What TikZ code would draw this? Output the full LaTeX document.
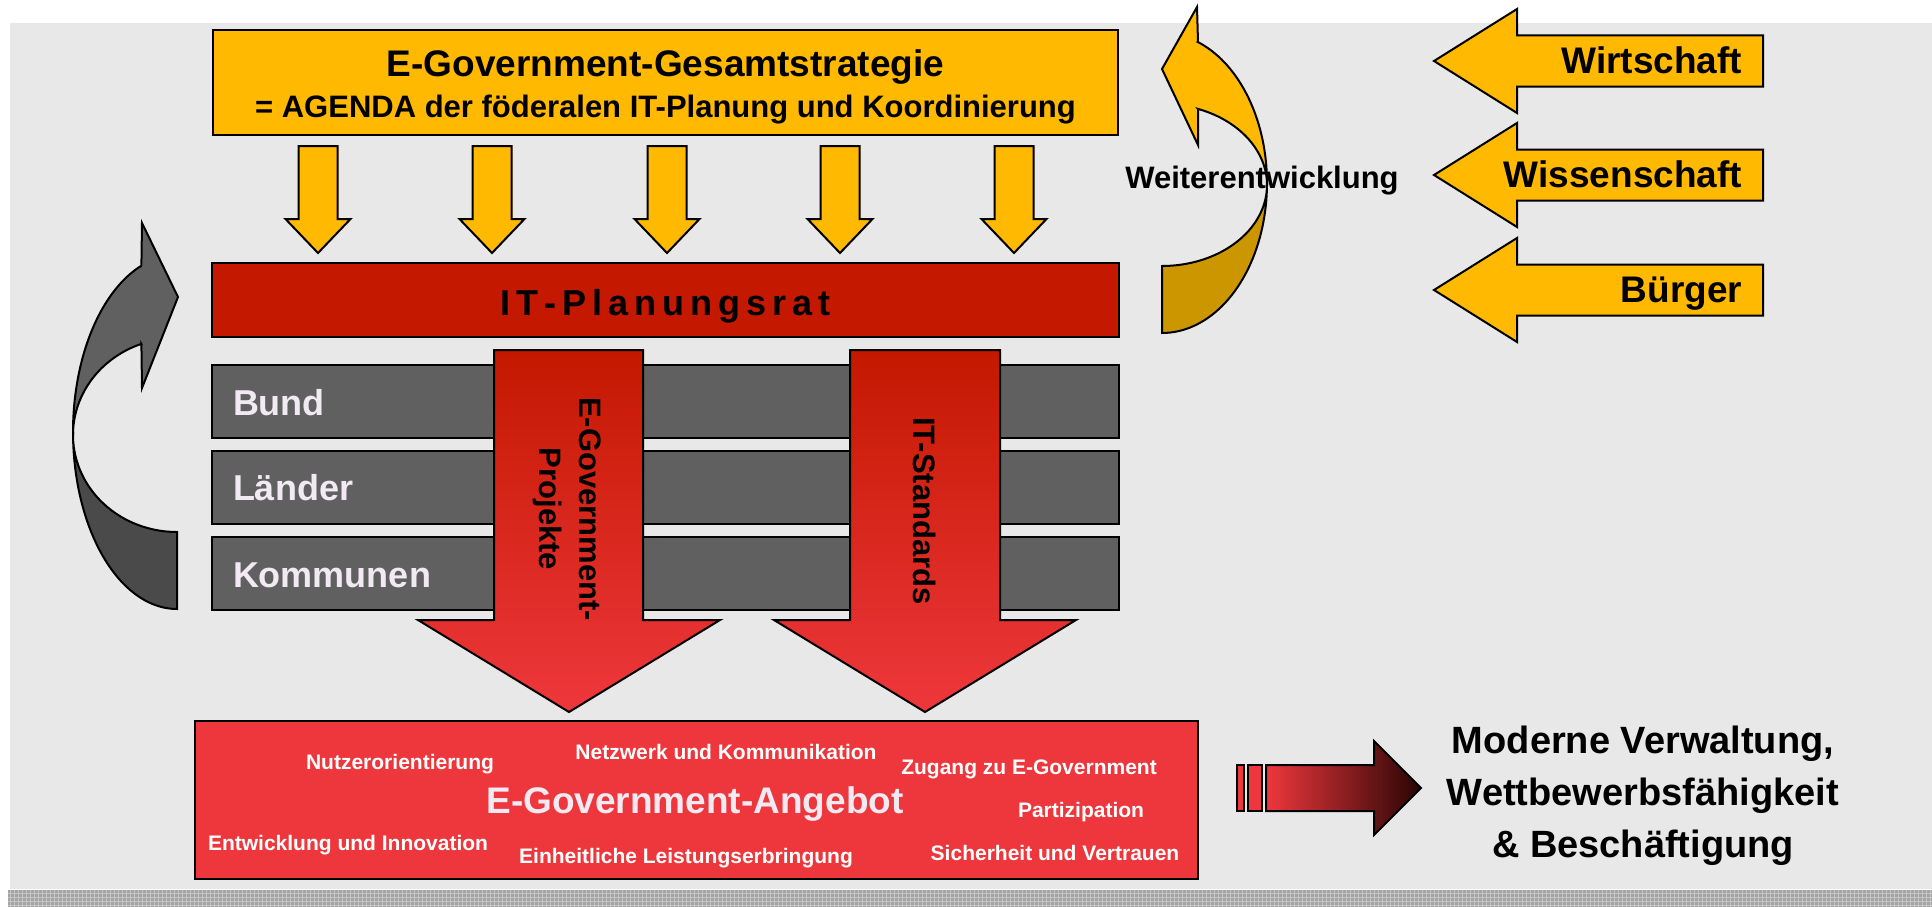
\documentclass[tikz,border=0pt]{standalone}
\usepackage{fontspec}
\setmainfont{Liberation Sans}
\definecolor{bg}{HTML}{E8E8E8}
\definecolor{yel}{HTML}{FFB900}
\definecolor{yeldark}{HTML}{CC9600}
\definecolor{itred}{HTML}{C41800}
\definecolor{lred}{HTML}{EE373C}
\definecolor{barg}{HTML}{606060}
\definecolor{darkg}{HTML}{4A4A4A}
\definecolor{txtw}{HTML}{F2EAF2}
\definecolor{darkred}{HTML}{2A0505}
\definecolor{stripg}{HTML}{A4A4A4}
\definecolor{stripl}{HTML}{C6C6C6}
\newcommand\fsz[1]{\fontsize{#1}{#1}\selectfont}
\begin{document}
\begin{tikzpicture}[x=1pt,y=-1pt,
  blk/.style={draw=black, line width=2pt, line join=miter},
  boxnode/.style={blk, inner sep=0pt, outer sep=0pt},
  txt/.style={inner sep=0pt, outer sep=0pt, font=\bfseries},
  small/.style={txt, text=white, anchor=base, font=\bfseries\fsz{21}}]
\useasboundingbox (0,0) rectangle (1932,907);
% background
\fill[bg] (10,23) rectangle (1932,889);
\fill[stripg] (8,890) rectangle (1932,907);
\foreach \i in {0,...,480} {\draw[stripl, line width=1pt] ({10+4*\i},890) -- ({10+4*\i},907);}
\foreach \j in {893,897,901,905} {\draw[stripl, line width=1pt] (8,\j) -- (1932,\j);}

% left curved grey arrow
\filldraw[blk, fill=darkg] plot[domain=180:90, samples=40] ({177+104*cos(\x)},{432+177*sin(\x)})
  -- (177,532) -- plot[domain=90:180, samples=40] ({177+104*cos(\x)},{435+97*sin(\x)}) -- cycle;
\filldraw[blk, fill=barg] (141.4,265.7) -- (142,223) -- (178,297) -- (142,388) -- (141.4,343.8)
  -- plot[domain=250:180, samples=40] ({177+104*cos(\x)},{435+97*sin(\x)})
  -- plot[domain=180:250, samples=40] ({177+104*cos(\x)},{432+177*sin(\x)}) -- cycle;

% strategy box
\node[boxnode, fill=yel, minimum width=905pt, minimum height=105pt] (strat) at (665.5,82.5) {};
\node[txt, anchor=base, font=\bfseries\fsz{37}] (strat1) at (665.5,77) {E-Government-Gesamtstrategie};
\node[txt, anchor=base, font=\bfseries\fsz{31}] (strat2) at (665.5,117) {= AGENDA der föderalen IT-Planung und Koordinierung};

% yellow down arrows
\foreach \c in {318,492,667,840,1014} {
  \filldraw[blk, fill=yel] ({\c-19.5},146) -- ({\c+19.5},146) -- ({\c+19.5},219) -- ({\c+32.5},219)
    -- (\c,253) -- ({\c-32.5},219) -- ({\c-19.5},219) -- cycle;
}

% IT-Planungsrat
\node[boxnode, fill=itred, minimum width=907pt, minimum height=74pt] (itpr) at (665.5,300) {};
\node[txt, anchor=base, font=\bfseries\fsz{36}] (itprt) at (665.5,315)
  {I\kern6pt T\kern6pt -\kern6pt P\kern6pt l\kern6pt a\kern6pt n\kern6pt u\kern6pt n\kern6pt g\kern6pt s\kern6pt r\kern6pt a\kern6pt t};

% grey bars
\node[boxnode, fill=barg, minimum width=907pt, minimum height=73pt] (bund) at (665.5,401.5) {};
\node[boxnode, fill=barg, minimum width=907pt, minimum height=73pt] (laender) at (665.5,487.5) {};
\node[boxnode, fill=barg, minimum width=907pt, minimum height=73pt] (kommunen) at (665.5,573.5) {};
\node[txt, anchor=base west, text=txtw, font=\bfseries\fsz{36}] (bundt) at (233,415) {Bund};
\node[txt, anchor=base west, text=txtw, font=\bfseries\fsz{36}] (laendert) at (233,500) {Länder};
\node[txt, anchor=base west, text=txtw, font=\bfseries\fsz{36}] (kommunent) at (233,587) {Kommunen};

% red down arrows
\path[blk, top color=itred, bottom color=lred] (494,350) -- (643,350) -- (643,620) -- (720,620)
  -- (569,712) -- (418,620) -- (494,620) -- cycle;
\path[blk, top color=itred, bottom color=lred] (850,350) -- (1000,350) -- (1000,620) -- (1076,620)
  -- (925,712) -- (774,620) -- (850,620) -- cycle;
\node[txt, rotate=-90, align=center, font=\bfseries\fontsize{31}{40}\selectfont] (proj) at (567,509) {E-Government-\\Projekte};
\node[txt, rotate=-90, font=\bfseries\fsz{31}] (stand) at (925,511) {IT-Standards};

% Weiterentwicklung curved arrow
\filldraw[blk, fill=yeldark] plot[domain=0:90, samples=40] ({1162+105*cos(\x)},{183+150*sin(\x)})
  -- (1162,266) -- plot[domain=90:0, samples=40] ({1162+105*cos(\x)},{185+81*sin(\x)}) -- cycle;
\filldraw[blk, fill=yel] (1198,42) -- (1197,7) -- (1162,69) -- (1198,145) -- (1198,109)
  -- plot[domain=-70:0, samples=40] ({1162+105*cos(\x)},{185+81*sin(\x)})
  -- plot[domain=0:-70, samples=40] ({1162+105*cos(\x)},{183+150*sin(\x)}) -- cycle;
\node[txt, anchor=base, font=\bfseries\fsz{31}] (weiter) at (1262,188) {Weiterentwicklung};

% right input arrows
\foreach \yc/\nm/\lab in {61/wirt/Wirtschaft, 175/wiss/Wissenschaft, 290/buerg/Bürger} {
  \filldraw[blk, fill=yel] (1434,\yc) -- (1517,{\yc-52}) -- (1517,{\yc-25.5}) -- (1763,{\yc-25.5})
    -- (1763,{\yc+25.5}) -- (1517,{\yc+25.5}) -- (1517,{\yc+52}) -- cycle;
  \node[txt, anchor=base east, font=\bfseries\fsz{37}] (\nm) at (1742,{\yc+12.5}) {\lab};
}

% offer box
\node[boxnode, fill=lred, minimum width=1003pt, minimum height=158pt] (offer) at (696.5,800) {};
\node[txt, anchor=base, text=txtw, font=\bfseries\fsz{37}] (offert) at (695,813) {E-Government-Angebot};
\node[small] (o1) at (400,769) {Nutzerorientierung};
\node[small] (o2) at (726,759) {Netzwerk und Kommunikation};
\node[small] (o3) at (1029,774) {Zugang zu E-Government};
\node[small] (o4) at (1081,817) {Partizipation};
\node[small] (o5) at (348,850) {Entwicklung und Innovation};
\node[small] (o6) at (686,863) {Einheitliche Leistungserbringung};
\node[small] (o7) at (1055,860) {Sicherheit und Vertrauen};

% result arrow
\filldraw[blk, fill=lred] (1237,765) rectangle (1244,811);
\filldraw[blk, fill=lred] (1248,765) rectangle (1262,811);
\path[blk, left color=lred, right color=darkred] (1266,765) -- (1374,765) -- (1374,741) -- (1421,788)
  -- (1374,835) -- (1374,811) -- (1266,811) -- cycle;
\node[txt, anchor=base, font=\bfseries\fsz{38}] (res1) at (1643,753) {Moderne Verwaltung,};
\node[txt, anchor=base, font=\bfseries\fsz{38}] (res2) at (1643,805) {Wettbewerbsfähigkeit};
\node[txt, anchor=base, font=\bfseries\fsz{38}] (res3) at (1643,857) {\& Beschäftigung};
\end{tikzpicture}
\end{document}
